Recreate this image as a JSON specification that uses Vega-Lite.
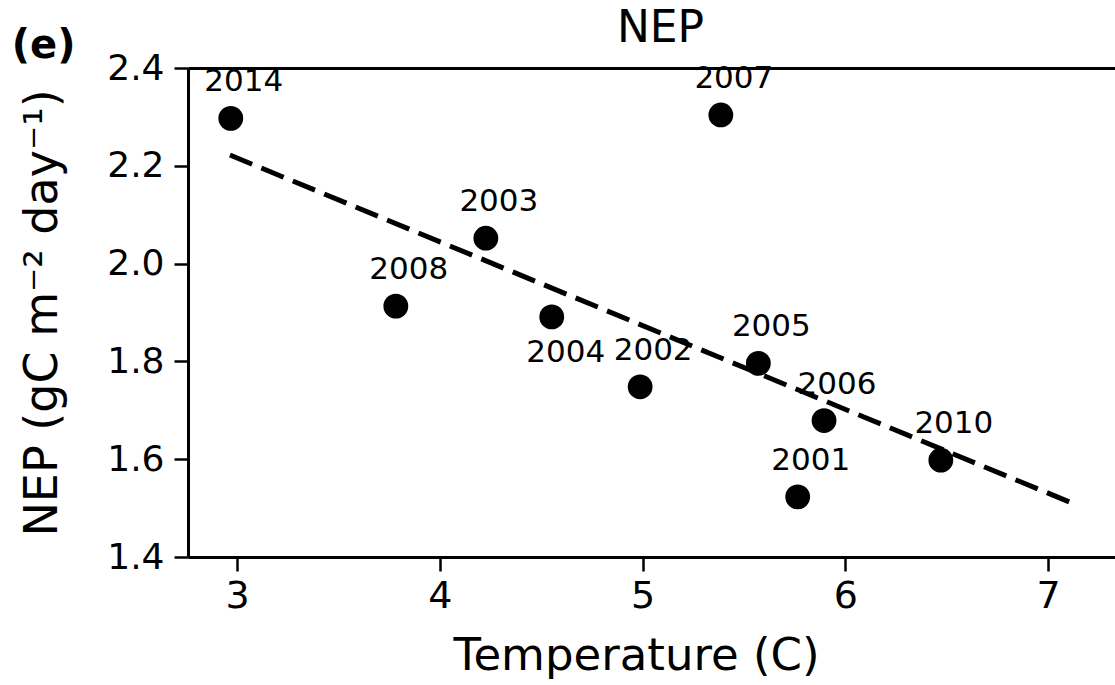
{
  "$schema": "https://vega.github.io/schema/vega-lite/v6.json",
  "width": 927,
  "height": 489,
  "autosize": {"type": "none"},
  "padding": {"left": 188, "top": 68, "right": 0, "bottom": 128},
  "background": "white",
  "config": {
    "view": {"stroke": null},
    "font": "DejaVu Sans",
    "axis": {
      "grid": false,
      "domainColor": "black",
      "domainWidth": 3,
      "tickColor": "black",
      "tickWidth": 2.5,
      "labelColor": "black",
      "titleColor": "black",
      "labelFont": "DejaVu Sans",
      "titleFont": "DejaVu Sans",
      "titleFontWeight": "normal"
    }
  },
  "title": {
    "text": "(e)",
    "anchor": "start",
    "frame": "bounds",
    "fontSize": 40,
    "fontWeight": "bold",
    "font": "DejaVu Sans",
    "color": "black",
    "dy": 64,
    "dx": -8
  },
  "datasets": {
    "pts": [
      {"year": "2014", "temp": 2.969, "nep": 2.297},
      {"year": "2007", "temp": 5.386, "nep": 2.304},
      {"year": "2003", "temp": 4.227, "nep": 2.052},
      {"year": "2008", "temp": 3.783, "nep": 1.913},
      {"year": "2004", "temp": 4.552, "nep": 1.891},
      {"year": "2002", "temp": 4.988, "nep": 1.748},
      {"year": "2005", "temp": 5.571, "nep": 1.796},
      {"year": "2006", "temp": 5.895, "nep": 1.679},
      {"year": "2001", "temp": 5.765, "nep": 1.523},
      {"year": "2010", "temp": 6.471, "nep": 1.598}
    ],
    "fit": [
      {"temp": 2.965, "nep": 2.222},
      {"temp": 7.12, "nep": 1.51}
    ]
  },
  "layer": [
    {
      "data": {"name": "fit"},
      "mark": {"type": "line", "color": "black", "strokeWidth": 5, "strokeDash": [24, 10], "clip": true},
      "encoding": {
        "x": {
          "field": "temp", "type": "quantitative",
          "scale": {"domain": [2.758, 7.33], "nice": false, "zero": false},
          "axis": {
            "orient": "bottom",
            "values": [3, 4, 5, 6, 7],
            "format": "d",
            "labelFontSize": 38,
            "tickSize": 14,
            "labelPadding": 6,
            "title": "Temperature (C)",
            "titleFontSize": 45,
            "titlePadding": 18,
            "titleX": 448
          }
        },
        "y": {
          "field": "nep", "type": "quantitative",
          "scale": {"domain": [1.4, 2.4], "nice": false, "zero": false},
          "axis": {
            "orient": "left",
            "values": [1.4, 1.6, 1.8, 2.0, 2.2, 2.4],
            "format": ".1f",
            "labelFontSize": 36,
            "tickSize": 14,
            "labelPadding": 10,
            "title": "NEP (gC m⁻² day⁻¹)",
            "titleFontSize": 46,
            "titlePadding": 40
          }
        }
      }
    },
    {
      "data": {"name": "pts"},
      "mark": {"type": "circle", "size": 616, "color": "black", "opacity": 1},
      "encoding": {
        "x": {"field": "temp", "type": "quantitative", "axis": null},
        "y": {"field": "nep", "type": "quantitative"}
      }
    },
    {
      "data": {"name": "pts"},
      "transform": [{"filter": "datum.year != '2004'"}],
      "mark": {"type": "text", "dx": 13, "dy": -27, "baseline": "alphabetic", "align": "center", "fontSize": 31, "font": "DejaVu Sans", "color": "black"},
      "encoding": {
        "x": {
          "field": "temp", "type": "quantitative",
          "axis": {
            "orient": "top",
            "labels": false,
            "ticks": false,
            "domain": true,
            "title": "NEP",
            "titleFontSize": 44,
            "titlePadding": 18,
            "titleX": 472
          }
        },
        "y": {"field": "nep", "type": "quantitative"},
        "text": {"field": "year", "type": "nominal"}
      }
    },
    {
      "data": {"name": "pts"},
      "transform": [{"filter": "datum.year == '2004'"}],
      "mark": {"type": "text", "dx": 14, "dy": 45, "baseline": "alphabetic", "align": "center", "fontSize": 31, "font": "DejaVu Sans", "color": "black"},
      "encoding": {
        "x": {"field": "temp", "type": "quantitative", "axis": null},
        "y": {"field": "nep", "type": "quantitative"},
        "text": {"field": "year", "type": "nominal"}
      }
    }
  ]
}
